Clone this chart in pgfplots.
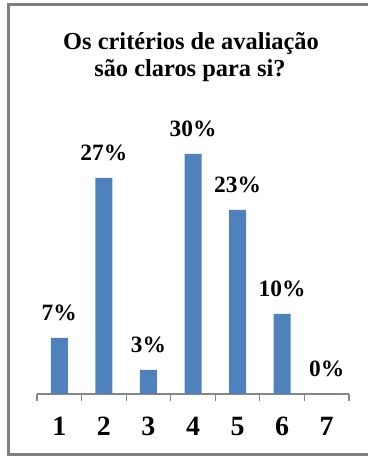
\documentclass[border=0pt]{standalone}
\usepackage{pgfplots}
\pgfplotsset{compat=1.18}
\usepackage{fontspec}
\setmainfont{Liberation Serif}
\definecolor{barblue}{HTML}{4F81BD}
\definecolor{framegray}{HTML}{808080}
\definecolor{axisgray}{HTML}{868686}
\begin{document}
\begin{tikzpicture}[x=1bp,y=1bp]
\path[use as bounding box] (0,0) rectangle (368,457);
\draw[framegray, line width=3bp] (368,452.5) -- (8.5,452.5) -- (8.5,2.5) -- (368,2.5);
\node[anchor=base, font=\fontsize{24.5}{28}\selectfont\bfseries] at (191,407) {Os critérios de avaliação};
\node[anchor=base, font=\fontsize{24.5}{28}\selectfont\bfseries] at (190,380) {são claros para si?};
\begin{axis}[
  at={(37bp,63bp)}, anchor=south west,
  scale only axis, width=312bp, height=280bp,
  xmin=0.5, xmax=7.5, ymin=0, ymax=35,
  axis x line*=bottom, axis y line=none,
  x axis line style={axisgray, line width=1.2bp, -},
  xtick={1,2,3,4,5,6,7},
  major tick length=0pt,
  minor xtick={0.5,1.5,2.5,3.5,4.5,5.5,6.5,7.5},
  minor tick length=7bp,
  tick align=outside,
  minor tick style={axisgray, line width=1.2bp},
  xticklabel style={anchor=base, yshift=-41bp, font=\fontsize{28}{32}\selectfont\bfseries},
  /pgf/number format/assume math mode=true,
  ybar, bar width=17bp,
  nodes near coords={\pgfmathprintnumber{\pgfplotspointmeta}\%},
  nodes near coords style={anchor=base, yshift=17bp, font=\fontsize{23.5}{27}\selectfont\bfseries, /pgf/number format/assume math mode=true},
  clip=false,
]
\addplot[fill=barblue, draw=none] coordinates {(1,7) (2,27) (3,3) (4,30) (5,23) (6,10) (7,0)};
\end{axis}
\end{tikzpicture}
\end{document}
